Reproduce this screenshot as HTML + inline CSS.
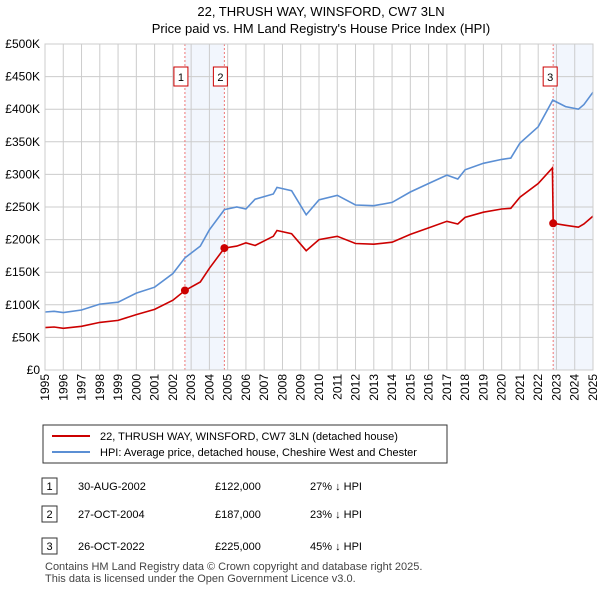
<!DOCTYPE html>
<html><head><meta charset="utf-8"><style>
body{margin:0;background:#fff;font-family:"Liberation Sans",sans-serif;color:#222}
svg text{font-family:"Liberation Sans",sans-serif}
</style></head><body>
<svg width="600" height="590" viewBox="0 0 600 590">
<text x="321" y="16" text-anchor="middle" font-size="13">22, THRUSH WAY, WINSFORD, CW7 3LN</text>
<text x="321" y="33" text-anchor="middle" font-size="13">Price paid vs. HM Land Registry's House Price Index (HPI)</text>
<g id="plot"></g>
<rect x="43" y="425" width="404" height="38" fill="#fff" stroke="#333"/>
<line x1="52" y1="436" x2="90" y2="436" stroke="#cc0000" stroke-width="2"/>
<text x="100" y="440" font-size="11">22, THRUSH WAY, WINSFORD, CW7 3LN (detached house)</text>
<line x1="52" y1="452" x2="90" y2="452" stroke="#5b8fd4" stroke-width="2"/>
<text x="100" y="456" font-size="11">HPI: Average price, detached house, Cheshire West and Chester</text>
<g font-size="11">
<rect x="42" y="478" width="15" height="16" fill="#fff" stroke="#333"/><text x="49.5" y="490" text-anchor="middle">1</text>
<text x="78" y="490">30-AUG-2002</text><text x="215" y="490">£122,000</text><text x="310" y="490">27% ↓ HPI</text>
<rect x="42" y="506" width="15" height="16" fill="#fff" stroke="#333"/><text x="49.5" y="518" text-anchor="middle">2</text>
<text x="78" y="518">27-OCT-2004</text><text x="215" y="518">£187,000</text><text x="310" y="518">23% ↓ HPI</text>
<rect x="42" y="538" width="15" height="16" fill="#fff" stroke="#333"/><text x="49.5" y="550" text-anchor="middle">3</text>
<text x="78" y="550">26-OCT-2022</text><text x="215" y="550">£225,000</text><text x="310" y="550">45% ↓ HPI</text>
</g>
<text x="45" y="570" font-size="11" fill="#444">Contains HM Land Registry data © Crown copyright and database right 2025.</text>
<text x="45" y="582" font-size="11" fill="#444">This data is licensed under the Open Government Licence v3.0.</text>
</svg>
<script>
const hpiDates=[1995,1995.5,1996,1997,1998,1999,2000,2001,2002,2002.66,2003.5,2004,2004.82,2005.5,2006,2006.5,2007.5,2007.7,2008.5,2009.3,2010,2011,2012,2013,2014,2015,2016,2017,2017.6,2018,2019,2020,2020.5,2021,2022,2022.8,2023.5,2024.2,2024.5,2025];
const hpiValues=[89,90,88,92,101,104,118,127,148,172,190,215,246,250,247,262,270,280,275,238,261,268,253,252,257,273,286,299,293,307,317,323,325,348,373,414,404,400,407,426];
const priceDates=[1995,1995.5,1996,1997,1998,1999,2000,2001,2002,2002.66,2003.5,2004,2004.82,2005.5,2006,2006.5,2007.5,2007.7,2008.5,2009.3,2010,2011,2012,2013,2014,2015,2016,2017,2017.6,2018,2019,2020,2020.5,2021,2022,2022.78,2022.82,2023.5,2024.2,2024.5,2025];
const priceValues=[65,66,64,67,73,76,85,93,107,122,135,156,187,190,195,191,205,214,209,183,200,205,194,193,196,208,218,228,224,234,242,247,248,265,286,310,225,222,219,224,236];
const saleDates=[2002.66,2004.82,2022.82];
const saleValues=[122,187,225];
const saleLabels=["1","2","3"];
const yTicks=[0,50,100,150,200,250,300,350,400,450,500];
const yTickLabels=["£0","£50K","£100K","£150K","£200K","£250K","£300K","£350K","£400K","£450K","£500K"];
const xTicks=[1995,1996,1997,1998,1999,2000,2001,2002,2003,2004,2005,2006,2007,2008,2009,2010,2011,2012,2013,2014,2015,2016,2017,2018,2019,2020,2021,2022,2023,2024,2025];
const X0=45,X1=593,Y0=370,Y1=44;
const xs=d=>X0+(d-1995)/30*(X1-X0);
const ys=v=>Y0-v/500*(Y0-Y1);
const NS="http://www.w3.org/2000/svg";
const g=document.getElementById('plot');
function mk(t,a){const e=document.createElementNS(NS,t);for(const k in a)e.setAttribute(k,a[k]);g.appendChild(e);return e;}
[[0,1],[2,null]].forEach(p=>{
 const a=xs(saleDates[p[0]]), b=p[1]===null?X1:xs(saleDates[p[1]]);
 const r=mk('rect',{x:a,y:Y1,width:b-a,height:Y0-Y1,fill:'#f2f6fd'});
 
 
});
yTicks.forEach((v,i)=>{
 const l=mk('line',{x1:X0,x2:X1,y1:ys(v),y2:ys(v),stroke:'#ccc','stroke-width':1});
 
 
 const t=mk('text',{x:X0-5,y:ys(v)+4,'text-anchor':'end','font-size':12});
 t.textContent=yTickLabels[i];
 
 
});
xTicks.forEach(d=>{
 const l=mk('line',{x1:xs(d),x2:xs(d),y1:Y1,y2:Y0,stroke:'#ccc','stroke-width':1});
 
 
 const t=mk('text',{x:0,y:0,'text-anchor':'end','font-size':12,transform:`translate(${xs(d)+4},374) rotate(-90)`});
 t.textContent=d;
 
 
});
saleDates.forEach((d,i)=>{
 const l=mk('line',{x1:xs(d),x2:xs(d),y1:Y1,y2:Y0,stroke:'#ee7777','stroke-width':1,'stroke-dasharray':'2,2'});
 
 
});
function path(ds,vs,c,name){
 const p=mk('path',{d:ds.map((d,i)=>(i?'L':'M')+xs(d).toFixed(1)+','+ys(vs[i]).toFixed(1)).join(''),fill:'none',stroke:c,'stroke-width':1.6});
 
 
}
path(hpiDates,hpiValues,'#5b8fd4','hpi-line');
path(priceDates,priceValues,'#cc0000','price-paid-line');
saleDates.forEach((d,i)=>{
 const c=mk('circle',{cx:xs(d),cy:ys(saleValues[i]),r:4,fill:'#cc0000'});
 
 
 const off=i<2?-11:-10;
 const r=mk('rect',{x:xs(d)+off,y:67,width:14,height:19,fill:'#fff',stroke:'#cc0000'});
 
 
 const t=mk('text',{x:xs(d)+off+7,y:81,'text-anchor':'middle','font-size':11});
 t.textContent=saleLabels[i];
 
 
});
const ax=mk('rect',{x:X0,y:Y1,width:X1-X0,height:Y0-Y1,fill:'none',stroke:'#ccc'});


</script>
</body></html>
